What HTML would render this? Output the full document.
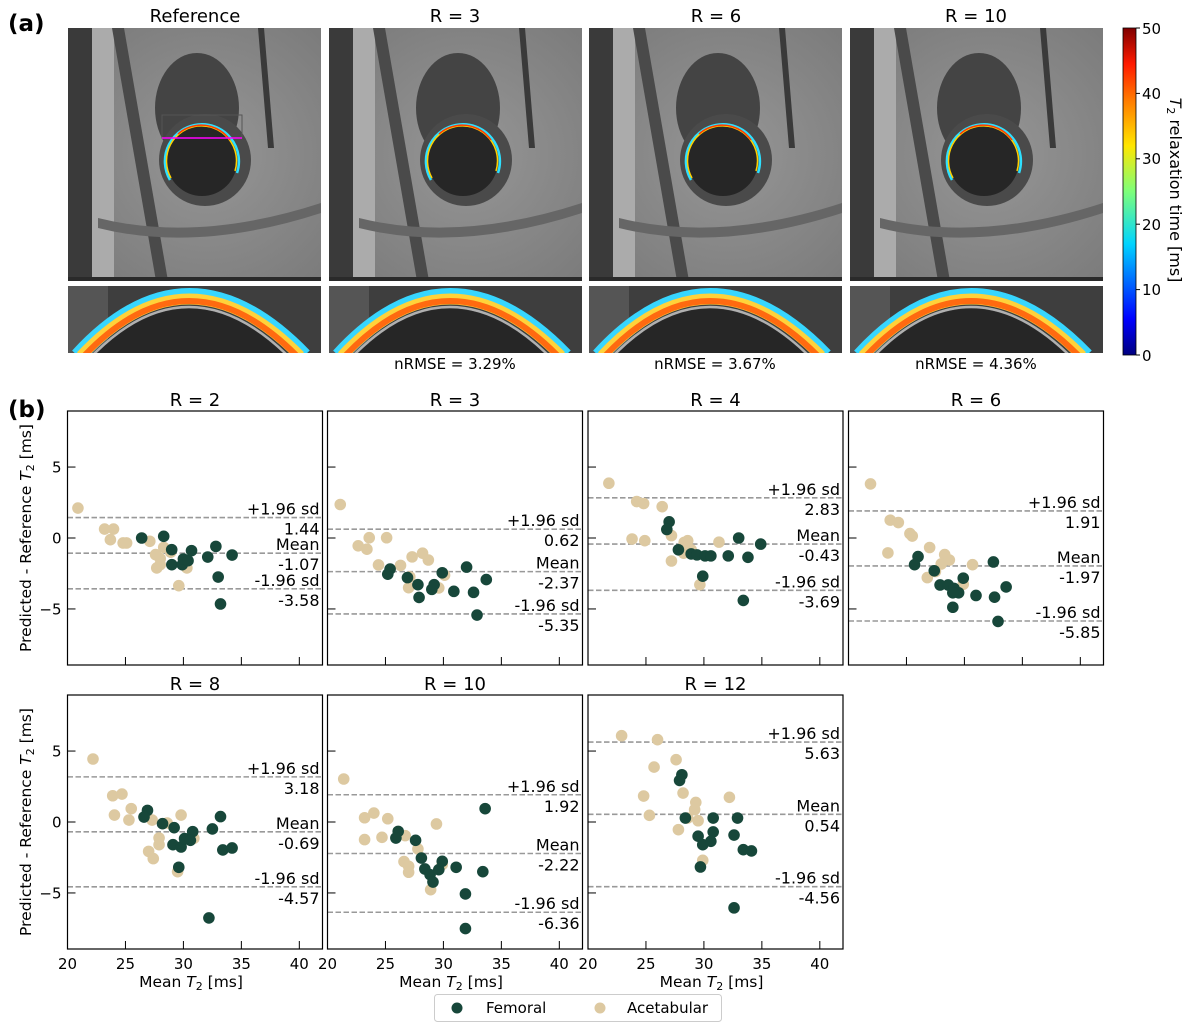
<!DOCTYPE html>
<html><head><meta charset="utf-8"><style>
html,body{margin:0;padding:0;background:#fff;}
#root{position:relative;width:1190px;height:1029px;overflow:hidden;font-family:"DejaVu Sans","Liberation Sans",sans-serif;}
svg text{font-family:"DejaVu Sans","Liberation Sans",sans-serif;}
</style></head><body>
<div id="root">
<svg id="fig" width="1190" height="1029" viewBox="0 0 1190 1029" xmlns="http://www.w3.org/2000/svg">
<defs>
<linearGradient id="jet" x1="0" y1="1" x2="0" y2="0">
<stop offset="0" stop-color="#00007f"/><stop offset="0.11" stop-color="#0000ff"/><stop offset="0.34" stop-color="#00d4ff"/><stop offset="0.5" stop-color="#7dff7a"/><stop offset="0.64" stop-color="#ffe600"/><stop offset="0.78" stop-color="#ff7a00"/><stop offset="0.89" stop-color="#ff1a00"/><stop offset="1" stop-color="#7f0000"/>
</linearGradient>
<radialGradient id="bgShade" cx="0.55" cy="0.5" r="0.7">
<stop offset="0" stop-color="#969696"/><stop offset="1" stop-color="#7a7a7a"/>
</radialGradient>
<clipPath id="stripClip"><rect x="0" y="0" width="253" height="67"/></clipPath>
<g id="mri">
<rect x="0" y="0" width="253" height="253" fill="url(#bgShade)"/>
<rect x="0" y="0" width="24" height="253" fill="#3a3a3a"/>
<rect x="24" y="0" width="22" height="253" fill="#ababab"/>
<path d="M44 0 L56 0 L100 253 L88 253 Z" fill="#4a4a4a"/>
<ellipse cx="129" cy="80" rx="42" ry="55" fill="#444"/>
<ellipse cx="137" cy="132" rx="46" ry="46" fill="#4a4a4a"/>
<path d="M190 0 L196 0 L206 120 L200 120 Z" fill="#3a3a3a"/>
<path d="M30 190 Q130 215 253 175 L253 185 Q130 225 30 200 Z" fill="#666"/>
<rect x="0" y="249" width="253" height="4" fill="#2a2a2a"/>
</g>
<g id="ring">
<circle cx="134" cy="133" r="35" fill="#262626"/>
<path d="M102 152 A37 37 0 1 1 169 145" fill="none" stroke="#2ee0ff" stroke-width="2.5"/>
<path d="M103 150 A35 35 0 1 1 167 143" fill="none" stroke="#ffd000" stroke-width="1.5"/>
<path d="M110 106 A35 35 0 0 1 162 112" fill="none" stroke="#ff3a00" stroke-width="1.5"/>
</g>
<g id="strip" clip-path="url(#stripClip)">
<rect x="0" y="0" width="253" height="67" fill="#3e3e3e"/>
<rect x="0" y="0" width="40" height="67" fill="#555"/>
<path d="M10 70 Q120 -50 236 70" fill="none" stroke="#37d6ff" stroke-width="16"/>
<path d="M13 70 Q120 -44 232 70" fill="none" stroke="#ffd23a" stroke-width="11"/>
<path d="M16 70 Q120 -40 229 70" fill="none" stroke="#ff6a10" stroke-width="6"/>
<path d="M24 70 Q120 -28 220 70" fill="none" stroke="#b0b0b0" stroke-width="2.5"/>
<path d="M26 70 Q120 -25 218 70 Z" fill="#262626"/>
</g>
</defs>

<text x="8" y="31" font-size="23" font-weight="bold">(a)</text>
<text x="8" y="417" font-size="23" font-weight="bold">(b)</text>

<g>
<use href="#mri" x="68" y="28"/><use href="#ring" x="68" y="28"/>
<rect x="162" y="115" width="80" height="23" fill="none" stroke="#555" stroke-width="1"/>
<line x1="162" y1="138" x2="242" y2="138" stroke="#ff00ff" stroke-width="1.5"/>
<use href="#strip" x="68" y="286"/>
</g>
<g><use href="#mri" x="329" y="28"/><use href="#ring" x="329" y="28"/><use href="#strip" x="329" y="286"/></g>
<g><use href="#mri" x="589" y="28"/><use href="#ring" x="589" y="28"/><use href="#strip" x="589" y="286"/></g>
<g><use href="#mri" x="850" y="28"/><use href="#ring" x="850" y="28"/><use href="#strip" x="850" y="286"/></g>

<text x="195" y="22" font-size="18" text-anchor="middle">Reference</text>
<text x="455" y="22" font-size="18" text-anchor="middle">R = 3</text>
<text x="716" y="22" font-size="18" text-anchor="middle">R = 6</text>
<text x="976" y="22" font-size="18" text-anchor="middle">R = 10</text>
<text x="455" y="369" font-size="15" text-anchor="middle">nRMSE = 3.29%</text>
<text x="715" y="369" font-size="15" text-anchor="middle">nRMSE = 3.67%</text>
<text x="976" y="369" font-size="15" text-anchor="middle">nRMSE = 4.36%</text>

<g>
<rect x="1123" y="28" width="13" height="327" fill="url(#jet)" stroke="#000" stroke-width="0.8"/>
<g font-size="15">
<line x1="1136" y1="28" x2="1140" y2="28" stroke="#000"/><text x="1142" y="34">50</text>
<line x1="1136" y1="93.4" x2="1140" y2="93.4" stroke="#000"/><text x="1142" y="99">40</text>
<line x1="1136" y1="158.8" x2="1140" y2="158.8" stroke="#000"/><text x="1142" y="164">30</text>
<line x1="1136" y1="224.2" x2="1140" y2="224.2" stroke="#000"/><text x="1142" y="230">20</text>
<line x1="1136" y1="289.6" x2="1140" y2="289.6" stroke="#000"/><text x="1142" y="295">10</text>
<line x1="1136" y1="355" x2="1140" y2="355" stroke="#000"/><text x="1142" y="361">0</text>
</g>
<text transform="translate(1170,190) rotate(90)" font-size="16" text-anchor="middle"><tspan font-style="italic">T</tspan><tspan font-size="11" dy="3">2</tspan><tspan dy="-3"> relaxation time [ms]</tspan></text>
</g>

<g id="bplots"></g>

<g>
<rect x="434.5" y="994.5" width="287" height="27" rx="3" fill="#fff" stroke="#ccc"/>
<circle cx="457" cy="1008" r="5.5" fill="#17473a"/>
<text x="486" y="1013" font-size="15">Femoral</text>
<circle cx="600" cy="1008" r="5.5" fill="#ddc9a1"/>
<text x="627" y="1013" font-size="15">Acetabular</text>
</g>
</svg>
</div>
<script>
const titles = ["R = 2","R = 3","R = 4","R = 6","R = 8","R = 10","R = 12"];
const upperLoA = [1.44, 0.62, 2.83, 1.91, 3.18, 1.92, 5.63];
const meanDiff = [-1.07, -2.37, -0.43, -1.97, -0.69, -2.22, 0.54];
const lowerLoA = [-3.58, -5.35, -3.69, -5.85, -4.57, -6.36, -4.56];
const xTicks = [20, 25, 30, 35, 40];
const yTicks = [-5, 0, 5];

const acetX = [
 [20.9,23.2,23.97,23.7,24.8,25.1,27.1,28.3,28.9,27.6,28.0,28.0,27.7,29.6,30.3],
 [21.1,22.65,23.4,23.6,25.1,24.4,26.3,27.3,28.2,28.7,27.1,27.0,29.6,30.1],
 [21.8,24.2,24.8,26.4,23.8,24.9,27.2,27.2,28.3,28.6,28.25,28.9,29.65,31.3],
 [21.9,23.6,24.3,25.3,25.5,23.4,27.0,28.3,28.7,28.0,27.5,26.8,30.7,29.9],
 [22.2,23.9,24.7,24.05,25.5,25.3,27.3,28.6,29.8,27.9,27.9,27.0,27.4,29.5,30.9],
 [21.4,23.2,24.0,25.2,23.2,24.7,26.7,29.4,27.8,26.6,27.0,27.0,29.9,28.9],
 [22.9,26.0,27.6,25.7,24.8,28.2,25.3,29.3,29.2,29.5,28.6,27.8,32.2,29.9]
];
const acetY = [
 [2.11,0.63,0.63,-0.12,-0.35,-0.35,-0.23,-0.66,-1.0,-1.17,-1.45,-1.88,-2.11,-3.36,-2.11],
 [2.36,-0.55,-0.79,0.02,0.02,-1.9,-1.93,-1.33,-1.07,-1.55,-2.74,-3.5,-3.52,-2.62],
 [3.86,2.57,2.43,2.21,-0.07,-0.19,0.17,-1.62,-0.31,-0.19,-1.07,-0.83,-3.29,-0.29],
 [3.81,1.26,1.09,0.31,0.14,-1.05,-0.67,-1.17,-1.55,-1.83,-2.36,-2.79,-1.88,-3.26],
 [4.44,1.85,1.97,0.49,0.94,0.14,0.14,-0.07,0.49,-1.13,-1.6,-2.07,-2.58,-3.5,-1.15],
 [3.03,0.3,0.63,0.23,-1.24,-1.08,-0.96,-0.14,-1.9,-2.79,-3.12,-3.54,-3.0,-4.77],
 [6.08,5.8,4.39,3.87,1.83,2.04,0.47,1.38,0.87,0.09,0.28,-0.54,1.74,-2.7]
];
const femX = [
 [26.4,28.3,28.99,29.0,29.9,30.0,30.4,30.7,32.1,32.8,33.0,33.2,34.2],
 [25.2,25.4,26.9,27.8,27.9,29.0,29.2,29.9,30.9,32.0,32.6,32.9,33.7],
 [27.0,26.8,27.8,28.9,29.4,30.1,30.6,29.9,32.1,33.0,33.8,33.4,34.9],
 [26.0,25.7,27.4,27.9,28.6,29.1,29.5,29.0,29.0,29.9,31.0,32.5,32.6,32.9,33.6],
 [26.9,26.6,28.2,29.2,29.1,29.8,30.1,30.8,30.6,29.6,32.5,33.2,33.4,34.2,32.2],
 [26.1,25.9,27.6,28.1,28.4,28.85,29.1,29.6,29.9,31.1,33.4,31.9,31.9,33.6],
 [28.1,27.9,28.4,30.8,32.9,30.8,29.5,29.9,30.6,32.6,33.4,34.1,29.7,32.6]
];
const femY = [
 [0,0.12,-0.82,-1.88,-1.88,-1.48,-1.6,-0.89,-1.34,-0.59,-2.75,-4.65,-1.2],
 [-2.55,-2.19,-2.79,-3.29,-4.19,-3.62,-3.29,-2.45,-3.76,-2.05,-3.83,-5.43,-2.93],
 [1.14,0.6,-0.83,-1.12,-1.19,-1.26,-1.26,-2.69,-1.26,0,-1.36,-4.4,-0.43],
 [-1.31,-1.88,-2.31,-3.31,-3.31,-3.55,-3.86,-3.86,-4.88,-2.83,-4.05,-1.69,-4.17,-5.88,-3.45],
 [0.82,0.35,-0.12,-0.4,-1.6,-1.76,-1.17,-0.68,-1.29,-3.19,-0.49,0.38,-1.97,-1.83,-6.76],
 [-0.66,-1.13,-1.29,-2.54,-3.31,-3.71,-4.23,-3.36,-2.77,-3.19,-3.5,-5.07,-7.51,0.94],
 [3.33,2.93,0.28,0.28,0.28,-0.7,-1.0,-1.6,-1.36,-0.92,-1.95,-2.04,-3.17,-6.05]
];

const NS = "http://www.w3.org/2000/svg";
const host = document.getElementById('bplots');
const panelLeft = [67.5, 327.5, 588, 848.5, 67.5, 327.5, 588];
const panelTop = [411, 411, 411, 411, 695, 695, 695];
const PW = 255, PH = 254, XMIN = 20, XMAX = 42, YMIN = -8.95, YMAX = 8.95;

function mk(tag, attrs, parent) {
  const e = document.createElementNS(NS, tag);
  for (const k in attrs) e.setAttribute(k, attrs[k]);
  parent.appendChild(e);
  return e;
}
function txt(parent, x, y, s, size, anchor) {
  const t = mk('text', {x: x, y: y, 'font-size': size, 'text-anchor': anchor}, parent);
  t.textContent = s;
  return t;
}

for (let p = 0; p < titles.length; p++) {
  const L = panelLeft[p], T = panelTop[p];
  const sx = v => L + (v - XMIN) / (XMAX - XMIN) * PW;
  const sy = v => T + (YMAX - v) / (YMAX - YMIN) * PH;
  const g = mk('g', {}, host);
  
  

  const title = txt(g, L + PW / 2, T - 5, titles[p], 18, 'middle');
  
  

  const lines = [[upperLoA[p], '+1.96 sd'], [meanDiff[p], 'Mean'], [lowerLoA[p], '-1.96 sd']];
  lines.forEach(function (ln, i) {
    const y = sy(ln[0]);
    const l = mk('line', {x1: L, x2: L + PW, y1: y, y2: y, stroke: '#999', 'stroke-width': 1.6, 'stroke-dasharray': '5.5,2.5'}, g);
    
    
  });

  for (let i = 0; i < acetX[p].length; i++) {
    const c = mk('circle', {cx: sx(acetX[p][i]), cy: sy(acetY[p][i]), r: 5.8, fill: '#ddc9a1'}, g);
    
    
  }
  for (let i = 0; i < femX[p].length; i++) {
    const c = mk('circle', {cx: sx(femX[p][i]), cy: sy(femY[p][i]), r: 5.8, fill: '#17473a'}, g);
    
    
  }

  lines.forEach(function (ln) {
    const y = sy(ln[0]);
    const a = txt(g, L + PW - 3, y - 3, ln[1], 16, 'end');
    
    
    const b = txt(g, L + PW - 3, y + 17, ln[0].toFixed(2), 16, 'end');
    
    
  });

  const fr = mk('rect', {x: L, y: T, width: PW, height: PH, fill: 'none', stroke: '#000', 'stroke-width': 1.2}, g);
  
  

  xTicks.forEach(function (v) {
    const x = sx(v);
    mk('line', {x1: x, x2: x, y1: T + PH, y2: T + PH - 8, stroke: '#000', 'stroke-width': 1}, g);
    if (p >= 4) {
      const t = txt(g, x, T + PH + 20, String(v), 15, 'middle');
      
      
    }
  });
  yTicks.forEach(function (v) {
    const y = sy(v);
    mk('line', {x1: L, x2: L + 8, y1: y, y2: y, stroke: '#000', 'stroke-width': 1}, g);
    if (p === 0 || p === 4) {
      const t = txt(g, L - 6, y + 5.5, v < 0 ? '\u2212' + Math.abs(v) : String(v), 15, 'end');
      
      
    }
  });

  if (p >= 4) {
    const xl = mk('text', {x: L + PW / 2 - 4, y: T + PH + 38, 'font-size': 15.5, 'text-anchor': 'middle'}, g);
    
    
    xl.innerHTML = 'Mean <tspan font-style="italic">T</tspan><tspan font-size="11" dy="3">2</tspan><tspan dy="-3"> [ms]</tspan>';
  }
  if (p === 0 || p === 4) {
    const yl = mk('text', {transform: 'translate(31,' + (T + PH / 2) + ') rotate(-90)', 'font-size': 15.5, 'text-anchor': 'middle'}, g);
    
    
    yl.innerHTML = 'Predicted - Reference <tspan font-style="italic">T</tspan><tspan font-size="11" dy="3">2</tspan><tspan dy="-3"> [ms]</tspan>';
  }
}
</script>
</body></html>
